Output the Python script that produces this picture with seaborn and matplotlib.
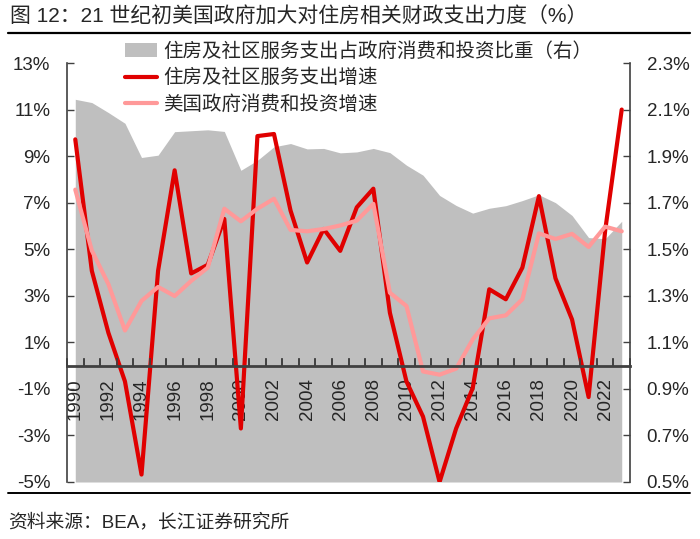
import numpy as np
import matplotlib
matplotlib.use('Agg')
import matplotlib.pyplot as plt
import seaborn as sns
from matplotlib.lines import Line2D
from matplotlib.patches import Patch
from matplotlib.ticker import FuncFormatter, FixedLocator

years = np.arange(1990, 2024)

# 住房及社区服务支出占政府消费和投资比重（右轴，%）
share = [2.144, 2.130, 2.087, 2.041, 1.894, 1.904, 2.005, 2.009, 2.013, 2.006,
         1.839, 1.882, 1.940, 1.954, 1.931, 1.933, 1.914, 1.918, 1.933, 1.915,
         1.861, 1.818, 1.731, 1.688, 1.655, 1.676, 1.687, 1.709, 1.734, 1.700,
         1.645, 1.550, 1.545, 1.620]

# 住房及社区服务支出增速（%）
housing = [9.72, 4.07, 1.41, -0.68, -4.68, 4.07, 8.39, 3.96, 4.33, 6.30,
           -2.70, 9.86, 9.95, 6.66, 4.43, 5.87, 4.93, 6.80, 7.60, 2.27,
           -0.68, -2.19, -5.0, -2.70, -0.97, 3.28, 2.85, 4.21, 7.28, 3.75,
           1.98, -1.35, 5.80, 11.0]

# 美国政府消费和投资增速（%）
gov = [7.56, 4.94, 3.50, 1.51, 2.78, 3.38, 2.99, 3.64, 4.21, 6.74,
       6.20, 6.74, 7.17, 5.83, 5.77, 5.87, 6.02, 6.23, 6.95, 3.13,
       2.56, -0.25, -0.39, -0.13, 1.12, 2.03, 2.16, 2.85, 5.68, 5.44,
       5.66, 5.10, 5.97, 5.77]

labels = ['住房及社区服务支出占政府消费和投资比重（右）',
          '住房及社区服务支出增速',
          '美国政府消费和投资增速']

left_ticks = np.arange(-5, 14, 2)
right_ticks = np.linspace(0.5, 2.3, 10)
major_years = np.arange(1990, 2023, 2)
year_edges = np.arange(1989.5, 2024, 1)

sns.set_style('white')
plt.rcParams['font.family'] = ['Liberation Sans', 'Noto Sans CJK SC']
plt.rcParams['axes.unicode_minus'] = False

c_area = '#bfbfbf'
c_red = '#e00000'
c_pink = '#ff9999'
c_axis = '#404040'
fs = 13.5
lw = 3.0

fig = plt.figure(figsize=(7, 5.39), dpi=100)
ax = fig.add_axes([67/700, 1-482/539, (630-67)/700, (482-63)/539])
ax2 = ax.twinx()

ax2.fill_between(years, share, 0.5, color=c_area, linewidth=0)
ax2.set_ylim(0.5, 2.3)

sns.lineplot(x=years, y=housing, ax=ax, color=c_red, linewidth=lw, legend=False)
sns.lineplot(x=years, y=gov, ax=ax, color=c_pink, linewidth=lw, legend=False)
ax.set_zorder(ax2.get_zorder() + 1)
ax.patch.set_visible(False)
ax.set_ylim(-5, 13)
ax.set_xlim(1989.5, 2023.5)
ax.set_xlabel('')
ax.set_ylabel('')

for a in (ax, ax2):
    a.spines['top'].set_visible(False)
    for s in ('left', 'right', 'bottom'):
        a.spines[s].set_color(c_axis)
        a.spines[s].set_linewidth(1.2)
ax.spines['right'].set_visible(False)
ax2.spines['left'].set_visible(False)
ax2.spines['bottom'].set_visible(False)
ax.spines['bottom'].set_position(('data', 0))
ax.spines['bottom'].set_linewidth(2)

ax.set_yticks(left_ticks)
ax.yaxis.set_major_formatter(FuncFormatter(lambda v, p: f'{v:.0f}%'))
ax2.set_yticks(right_ticks)
ax2.yaxis.set_major_formatter(FuncFormatter(lambda v, p: f'{v:.1f}%'))
ax.xaxis.set_major_locator(FixedLocator(major_years))
ax.xaxis.set_minor_locator(FixedLocator(year_edges))

ax.tick_params(axis='x', which='major', bottom=True, length=0, pad=9,
               labelsize=fs, labelrotation=90)
ax.tick_params(axis='x', which='minor', bottom=True, direction='in', length=5,
               width=1.2, color=c_axis)
ax.tick_params(axis='y', left=True, direction='in', length=5, width=1,
               color=c_axis, pad=12, labelsize=fs)
ax2.tick_params(axis='y', right=True, direction='in', length=5, width=1,
                color=c_axis, pad=12, labelsize=fs)
for lab in ax.get_xticklabels():
    lab.set_va('top')

# year-boundary tick marks on the zero line, drawn as up-pointing tick markers
ax.plot(year_edges, np.zeros(len(year_edges)), linestyle='none', marker=2,
        markersize=6, markeredgewidth=1.2, color=c_axis, clip_on=False, zorder=3)

handles = [Patch(facecolor=c_area, edgecolor='none'),
           Line2D([], [], color=c_red, linewidth=lw),
           Line2D([], [], color=c_pink, linewidth=lw)]
fig.legend(handles, labels, loc='upper left', bbox_to_anchor=(125/700, 1-42/539),
           frameon=False, fontsize=14, handlelength=1.65, handletextpad=0.3,
           labelspacing=0.42, borderaxespad=0, borderpad=0)

fig.text(10/700, 1-17/539, '图 12：21 世纪初美国政府加大对住房相关财政支出力度（%）',
         fontsize=15, va='center', ha='left')
fig.add_artist(Line2D([8/700, 690/700], [1-33/539, 1-33/539], color='black', linewidth=1.6))
fig.add_artist(Line2D([8/700, 690/700], [1-493/539, 1-493/539], color='black', linewidth=1.4))
fig.text(8/700, 1-522/539, '资料来源：BEA，长江证券研究所', fontsize=fs, va='center', ha='left')

fig.savefig('out.png', dpi=100)
